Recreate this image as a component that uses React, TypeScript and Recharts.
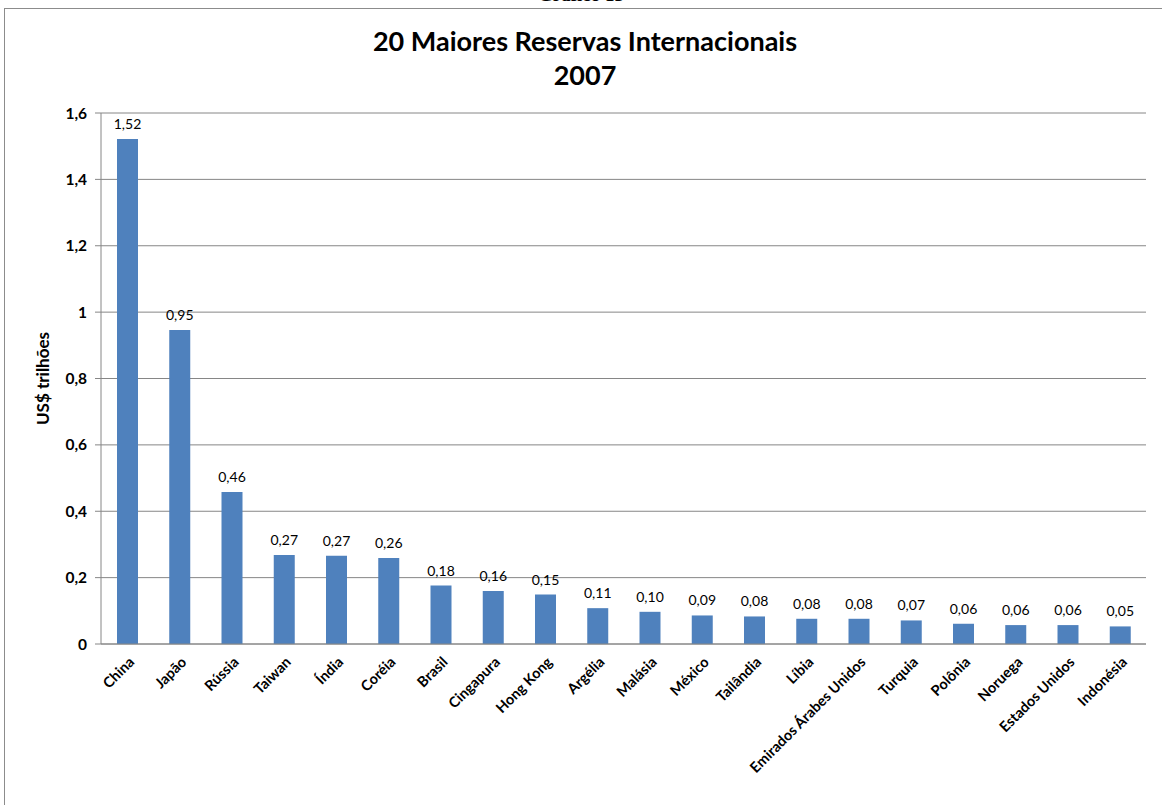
import { BarChart, Bar, XAxis, YAxis, CartesianGrid, LabelList } from 'recharts'

const countries = [
  'China', 'Japão', 'Rússia', 'Taiwan', 'Índia', 'Coréia', 'Brasil', 'Cingapura', 'Hong Kong', 'Argélia',
  'Malásia', 'México', 'Tailândia', 'Líbia', 'Emirados Árabes Unidos', 'Turquia', 'Polônia', 'Noruega',
  'Estados Unidos', 'Indonésia',
]
const reserves = [
  1.522, 0.946, 0.458, 0.268, 0.266, 0.259, 0.176, 0.16, 0.149, 0.108,
  0.097, 0.086, 0.083, 0.076, 0.076, 0.071, 0.061, 0.057, 0.057, 0.053,
]
const yTicks = [0, 0.2, 0.4, 0.6, 0.8, 1, 1.2, 1.4, 1.6]

const data = countries.map((name, i) => ({ name, value: reserves[i] }))

const FONT = 'Lato, "Open Sans", sans-serif'
const GRID = '#868686'

function CountryTick({ x, y, payload }: any) {
  const ax = x + 8
  const ay = y + 11
  return (
    <text x={ax} y={ay} transform={`rotate(-45 ${ax} ${ay})`} textAnchor="end"
      fontFamily={FONT} fontWeight={700} fontSize={14.5} fill="#000">
      {payload.value}
    </text>
  )
}

function AxisTitle({ viewBox }: any) {
  const cx = 42
  const cy = viewBox.y + viewBox.height / 2
  return (
    <text x={cx} y={cy} transform={`rotate(-90 ${cx} ${cy})`} textAnchor="middle" dominantBaseline="central"
      fontFamily={FONT} fontWeight={700} fontSize={17} fill="#000">
      US$ trilhões
    </text>
  )
}

export default function App() {
  return (
    <div style={{ position: 'absolute', left: 0, top: 0, width: 1162, height: 805, overflow: 'hidden', background: '#fff' }}>
      <div style={{ position: 'absolute', left: 0, width: 1162, top: -16, textAlign: 'center', fontFamily: '"Liberation Serif", serif', fontWeight: 700, fontSize: 19 }}>
        Gráfico 13
      </div>
      <div style={{ position: 'absolute', left: 4, top: 8, width: 1200, height: 900, borderLeft: '1px solid #8c8c8c', borderTop: '1px solid #8c8c8c' }} />
      <div style={{ position: 'absolute', left: 0, width: 1170, top: 24, textAlign: 'center', fontFamily: FONT, fontWeight: 700, fontSize: 27, lineHeight: '34px', color: '#000' }}>
        20 Maiores Reservas Internacionais
        <br />
        2007
      </div>
      <div style={{ position: 'absolute', left: 0, top: 0 }}>
        <BarChart width={1162} height={805} data={data} margin={{ top: 113, right: 16, left: 41, bottom: 11 }}>
          <CartesianGrid vertical={false} stroke={GRID} strokeDasharray="" />
          <XAxis dataKey="name" interval={0} height={150} tickLine={false} stroke={GRID} tick={<CountryTick />} />
          <YAxis domain={[0, 1.6]} ticks={yTicks} width={60} tickSize={6} tickMargin={8} stroke={GRID}
            tick={{ fontFamily: FONT, fontWeight: 700, fontSize: 15.5, fill: '#000' }}
            tickFormatter={(v: number) => String(v).replace('.', ',')}
            label={{ content: <AxisTitle /> }} />
          <Bar dataKey="value" fill="#4f81bd" barSize={21} isAnimationActive={false}>
            <LabelList dataKey="value" position="top" offset={10}
              formatter={(v: number) => v.toFixed(2).replace('.', ',')}
              style={{ fontFamily: FONT, fontSize: 14, fill: '#000' }} />
          </Bar>
        </BarChart>
      </div>
    </div>
  )
}
